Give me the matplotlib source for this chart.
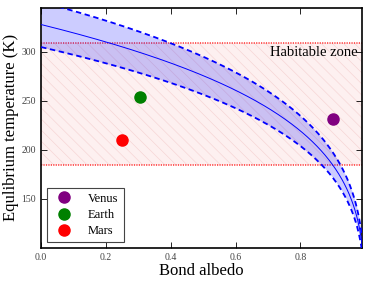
import numpy as np
import matplotlib
matplotlib.use("Agg")
import matplotlib.pyplot as plt

plt.rcParams['font.family'] = ['Liberation Serif', 'DejaVu Serif']
plt.rcParams['hatch.color'] = '#f4caca'
plt.rcParams['hatch.linewidth'] = 0.5

planets = ["Venus", "Earth", "Mars"]
planet_albedo = [0.90, 0.306, 0.25]
planet_temp = [232, 254, 210]
planet_colors = ["purple", "green", "red"]

T0_center = 328.0
T0_low = 305.0
T0_high = 351.0
hz_low, hz_high = 185, 309

fig = plt.figure(figsize=(3.74, 2.82), dpi=100)
ax = fig.add_axes([0.11, 0.121, 0.858, 0.851])

A = np.linspace(0, 0.99, 400)
ax.axhspan(hz_low, hz_high, facecolor='#fdf0f0', edgecolor='#f6d6d6', hatch='\\\\\\', lw=0, zorder=0)
for y in (hz_low, hz_high):
    ax.axhline(y, color='red', ls=(0, (0.8, 0.8)), lw=1.1, alpha=0.8, zorder=1)
ax.text(0.975, 299, "Habitable zone", ha='right', va='center', fontsize=10.5)

ax.fill_between(A, T0_low * (1 - A) ** 0.25, T0_high * (1 - A) ** 0.25,
                color='blue', alpha=0.2, lw=0, zorder=2)
ax.plot(A, T0_center * (1 - A) ** 0.25, color='blue', lw=0.7, zorder=3)
ax.plot(A, T0_low * (1 - A) ** 0.25, color='blue', lw=1.3, ls=(0, (3, 2)), zorder=3)
ax.plot(A, T0_high * (1 - A) ** 0.25, color='blue', lw=1.3, ls=(0, (3, 2)), zorder=3)

for n, a, t, c in zip(planets, planet_albedo, planet_temp, planet_colors):
    ax.plot(a, t, 'o', color=c, ms=8, mec=c, label=n, zorder=4)

ax.set_xlim(0, 0.99)
ax.set_ylim(100, 345)
ax.set_xticks([0.0, 0.2, 0.4, 0.6, 0.8])
ax.set_yticks([150, 200, 250, 300])
ax.tick_params(direction='in', top=True, right=True, labelsize=7, length=4, width=0.6,
               labelcolor='#444444')
for s in ax.spines.values():
    s.set_linewidth(1.2)
ax.set_xlabel("Bond albedo", fontsize=12, labelpad=1)
ax.set_ylabel("Equlibrium temperature (K)", fontsize=12, labelpad=2)
leg = ax.legend(loc='lower left', fontsize=9, numpoints=1, fancybox=False,
                edgecolor='#444444', framealpha=1, borderaxespad=0.45, handletextpad=0.9,
                labelspacing=0.35, borderpad=0.4)
leg.get_frame().set_linewidth(0.8)

fig.savefig("out.png", dpi=100)
